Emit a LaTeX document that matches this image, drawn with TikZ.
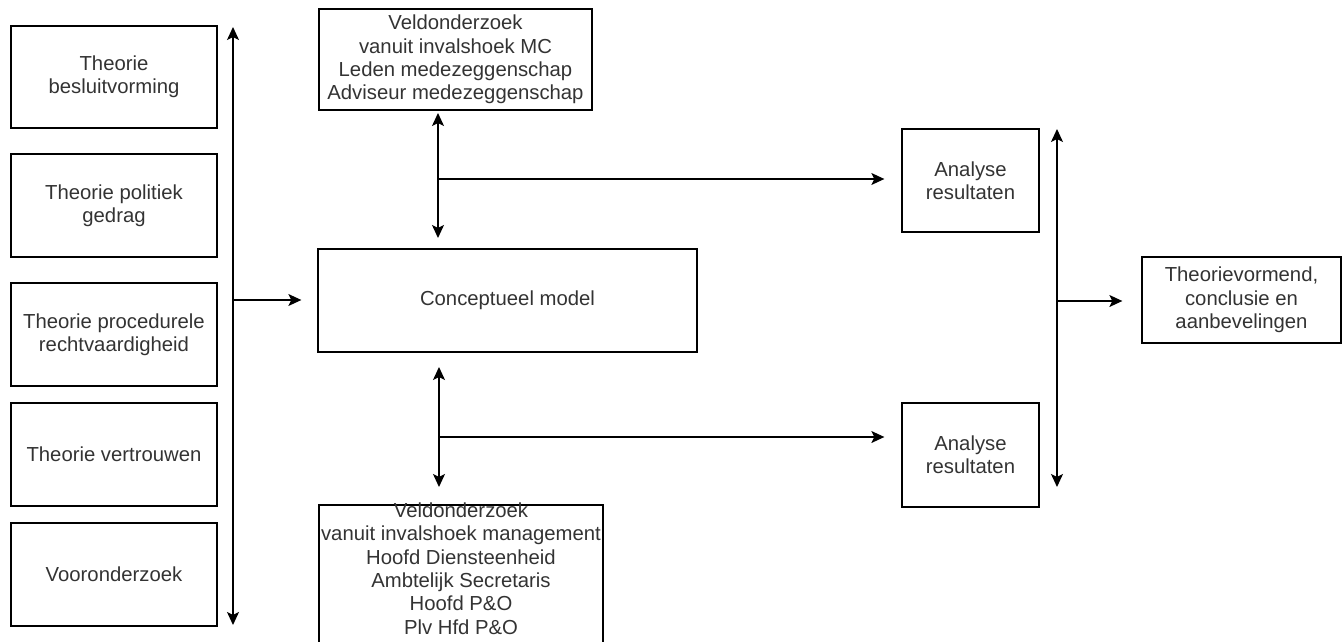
\documentclass[tikz,border=0pt]{standalone}
\usepackage{fontspec}
\setmainfont{Liberation Sans}
\usetikzlibrary{arrows.meta}
\begin{document}
\begin{tikzpicture}[x=1pt,y=-1pt,
  box/.style={draw=black,line width=1.3pt,rectangle,inner sep=0pt,align=center,
    text=black!80,font=\fontsize{20.3pt}{23.3pt}\selectfont},
  txt/.style={inner sep=0pt,align=center,text=black!80,
    font=\fontsize{20.3pt}{23.3pt}\selectfont},
  tip/.style={Stealth[length=13pt,width=12pt,inset=3pt]},
  dbl/.style={draw=black,line width=1.3pt,{Stealth[length=13pt,width=12pt,inset=3pt]}-{Stealth[length=13pt,width=12pt,inset=3pt]}},
  one/.style={draw=black,line width=1.3pt,-{Stealth[length=13pt,width=12pt,inset=3pt]}}]
\useasboundingbox (0,0) rectangle (1342,642);
\clip (0,0) rectangle (1342,642);

% theory column
\node[box,minimum width=206pt,minimum height=102pt] (t1) at (114,77) {Theorie\\besluitvorming};
\node[box,minimum width=206pt,minimum height=103pt] (t2) at (114,205.5) {Theorie politiek\\gedrag};
\node[box,minimum width=206pt,minimum height=103pt] (t3) at (114,334.5) {Theorie procedurele\\rechtvaardigheid};
\node[box,minimum width=206pt,minimum height=103pt] (t4) at (114,454.5) {Theorie vertrouwen};
\node[box,minimum width=206pt,minimum height=103pt] (t5) at (114,574.5) {Vooronderzoek};

% central model and field research
\node[box,minimum width=379pt,minimum height=103pt] (concept) at (507.5,300.5) {Conceptueel model};
\node[box,minimum width=273pt,minimum height=101pt] (mc) at (455.5,59.5)
  {Veldonderzoek\\vanuit invalshoek MC\\Leden medezeggenschap\\Adviseur medezeggenschap};
\node[box,minimum width=284pt,minimum height=200pt] (mgmt) at (461,605) {};
\node[txt] (mgmttxt) at (461,568.5)
  {Veldonderzoek\\vanuit invalshoek management\\Hoofd Diensteenheid\\Ambtelijk Secretaris\\Hoofd P\&O\\Plv Hfd P\&O};

% analysis and conclusion
\node[box,minimum width=137pt,minimum height=103pt] (an1) at (970.5,180.5) {Analyse\\resultaten};
\node[box,minimum width=137pt,minimum height=104pt] (an2) at (970.5,455) {Analyse\\resultaten};
\node[box,minimum width=199pt,minimum height=86pt] (final) at (1241.5,300)
  {Theorievormend,\\conclusie en\\aanbevelingen};

% connector end points
\coordinate (ltop) at (233,27);
\coordinate (lbot) at (233,625);
\coordinate (lmid) at (233,300);
\coordinate (ta) at (438,113);
\coordinate (tb) at (438,238);
\coordinate (tj) at (438,179);
\coordinate (ba) at (439,367);
\coordinate (bb) at (439,487);
\coordinate (bj) at (439,437);
\coordinate (ra) at (1057,129);
\coordinate (rb) at (1057,487);
\coordinate (rj) at (1057,301);

% connectors
\draw[dbl] (ltop) -- (lbot);
\draw[one,shorten >=16pt] (lmid) -- (lmid -| concept.west);
\draw[dbl] (ta) -- (tb);
\draw[one,shorten >=17pt] (tj) -- (tj -| an1.west);
\draw[dbl] (ba) -- (bb);
\draw[one,shorten >=17pt] (bj) -- (bj -| an2.west);
\draw[dbl] (ra) -- (rb);
\draw[one,shorten >=19pt] (rj) -- (rj -| final.west);
\end{tikzpicture}
\end{document}
